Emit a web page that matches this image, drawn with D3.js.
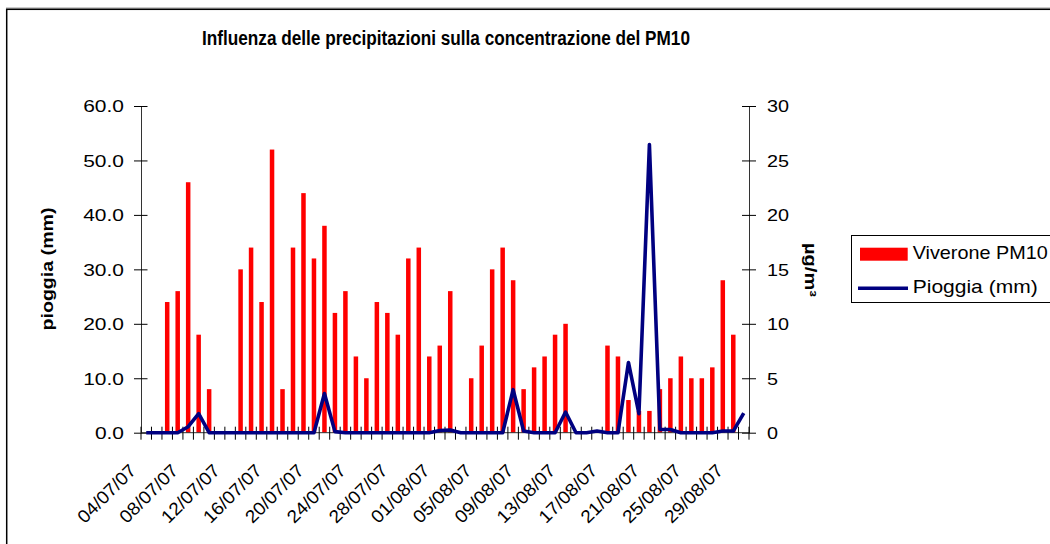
<!DOCTYPE html>
<html>
<head>
<meta charset="utf-8">
<script src="https://cdn.jsdelivr.net/npm/d3@7"></script>
<style>
  body { margin: 0; background: #fff; }
  svg { display: block; font-family: "Liberation Sans", Arial, sans-serif; }
</style>
</head>
<body>
<svg id="chart" width="1050" height="544"></svg>
<script>
// Categories (one per day)
const dates = [
  "04/07/07","05/07/07","06/07/07","07/07/07","08/07/07","09/07/07","10/07/07","11/07/07",
  "12/07/07","13/07/07","14/07/07","15/07/07","16/07/07","17/07/07","18/07/07","19/07/07",
  "20/07/07","21/07/07","22/07/07","23/07/07","24/07/07","25/07/07","26/07/07","27/07/07",
  "28/07/07","29/07/07","30/07/07","31/07/07","01/08/07","02/08/07","03/08/07","04/08/07",
  "05/08/07","06/08/07","07/08/07","08/08/07","09/08/07","10/08/07","11/08/07","12/08/07",
  "13/08/07","14/08/07","15/08/07","16/08/07","17/08/07","18/08/07","19/08/07","20/08/07",
  "21/08/07","22/08/07","23/08/07","24/08/07","25/08/07","26/08/07","27/08/07","28/08/07",
  "29/08/07","30/08/07"
];

// Viverone PM10 (µg/m3, right axis), null = no data
const pm10 = [
  null, null, 12, 13, 23, 9, 4, null,
  null, 15, 17, 12, 26, 4, 17, 22,
  16, 19, 11, 13, 7, 5, 12, 11,
  9, 16, 17, 7, 8, 13, null, 5,
  8, 15, 17, 14, 4, 6, 7, 9,
  10, null, null, null, 8, 7, 3, 2,
  2, 4, 5, 7, 5, 5, 6, 14,
  9, null
];

// Pioggia (mm, left axis)
const rain = [
  0, 0, 0, 0, 1.1, 3.5, 0, 0,
  0, 0, 0, 0, 0, 0, 0, 0,
  0, 7.2, 0.2, 0, 0, 0, 0, 0,
  0, 0, 0, 0, 0.4, 0.5, 0, 0,
  0, 0, 0, 7.9, 0.3, 0, 0, 0,
  3.8, 0, 0, 0.3, 0, 0, 12.9, 3.5,
  52.9, 0.6, 0.6, 0, 0, 0, 0, 0.3,
  0.3, 3.6
];

const rainTicks = [0, 10, 20, 30, 40, 50, 60];
const pmTicks = [0, 5, 10, 15, 20, 25, 30];
const labelEvery = 4;

const svg = d3.select("#chart");

// stretch text horizontally to mimic the wide rendering of the original
function stretch(sel, k) {
  sel.each(function () {
    const w = this.getComputedTextLength();
    this.setAttribute("textLength", w * k);
    this.setAttribute("lengthAdjust", "spacingAndGlyphs");
  });
}

// outer frame
svg.append("line")
  .attr("x1", 6).attr("x2", 1050).attr("y1", 8).attr("y2", 8)
  .attr("stroke", "#999").attr("stroke-width", 1);
svg.append("rect")
  .attr("x", 6.7).attr("y", 9.3)
  .attr("width", 1100).attr("height", 600)
  .attr("fill", "none").attr("stroke", "#000").attr("stroke-width", 1.5);

// plot geometry
const plotL = 141, plotR = 749, plotT = 106, plotB = 432.7;

const x = d3.scaleBand().domain(dates).range([plotL, plotR]).padding(0);
const yRain = d3.scaleLinear().domain([0, 60]).range([plotB, plotT]);
const yPM = d3.scaleLinear().domain([0, 30]).range([plotB, plotT]);

const barW = x.bandwidth() * 0.43;

// Bars (PM10)
svg.append("g")
  .selectAll("rect")
  .data(dates.map((d, i) => ({ date: d, value: pm10[i] })).filter(d => d.value != null))
  .join("rect")
  .attr("x", d => x(d.date) + x.bandwidth() / 2 - barW / 2)
  .attr("y", d => yPM(d.value))
  .attr("width", barW)
  .attr("height", d => plotB - yPM(d.value))
  .attr("fill", "#ff0000");

// Left axis
const gLeft = svg.append("g")
  .attr("transform", `translate(${plotL},0)`)
  .call(d3.axisLeft(yRain).tickValues(rainTicks).tickFormat(d3.format(".1f")).tickSizeOuter(0));
gLeft.attr("font-family", null).attr("font-size", null);
gLeft.select(".domain").attr("stroke", "#333");
gLeft.selectAll(".tick line").attr("x1", -7).attr("x2", 6.5).attr("stroke", "#000");
gLeft.selectAll(".tick text")
  .attr("x", -17).attr("dy", "0.36em")
  .attr("font-size", 16.5).attr("fill", "#000")
  .call(stretch, 1.27);

// Right axis
const gRight = svg.append("g")
  .attr("transform", `translate(${plotR},0)`)
  .call(d3.axisRight(yPM).tickValues(pmTicks).tickSizeOuter(0));
gRight.attr("font-family", null).attr("font-size", null);
gRight.select(".domain").attr("stroke", "#333");
gRight.selectAll(".tick line").attr("x1", -7).attr("x2", 7).attr("stroke", "#000");
gRight.selectAll(".tick text")
  .attr("x", 18).attr("dy", "0.36em")
  .attr("font-size", 16.5).attr("fill", "#000")
  .call(stretch, 1.2);

// X axis line and category boundary ticks
const gX = svg.append("g");
gX.append("line")
  .attr("x1", plotL).attr("x2", plotR)
  .attr("y1", plotB).attr("y2", plotB)
  .attr("stroke", "#333");
gX.selectAll("line.tick")
  .data(dates.concat([null]))
  .join("line")
  .attr("class", "tick")
  .attr("x1", d => d == null ? plotR : x(d))
  .attr("x2", d => d == null ? plotR : x(d))
  .attr("y1", plotB - 6).attr("y2", plotB + 7)
  .attr("stroke", "#000");

gX.selectAll("text")
  .data(dates.filter((d, i) => i % labelEvery === 0))
  .join("text")
  .attr("transform", d => `translate(${x(d) + x.bandwidth() / 2 - 9},${plotB + 39}) rotate(-45)`)
  .attr("text-anchor", "end")
  .attr("font-size", 18)
  .text(d => d)
  .call(stretch, 1.06);

// Rain line
const line = d3.line()
  .x((d, i) => x(dates[i]) + x.bandwidth() / 2)
  .y(d => yRain(d));

svg.append("path")
  .datum(rain)
  .attr("d", line)
  .attr("fill", "none")
  .attr("stroke", "#000080")
  .attr("stroke-width", 3.6)
  .attr("stroke-linejoin", "round");

// Title
svg.append("text")
  .attr("x", 446).attr("y", 45)
  .attr("text-anchor", "middle")
  .attr("font-size", 20).attr("font-weight", "bold")
  .attr("textLength", 488).attr("lengthAdjust", "spacingAndGlyphs")
  .text("Influenza delle precipitazioni sulla concentrazione del PM10");

// Axis titles
svg.append("text")
  .attr("transform", "translate(53,269) rotate(-90)")
  .attr("text-anchor", "middle")
  .attr("font-size", 16).attr("font-weight", "bold")
  .attr("textLength", 123).attr("lengthAdjust", "spacingAndGlyphs")
  .text("pioggia (mm)");

svg.append("text")
  .attr("transform", "translate(805,270) rotate(90)")
  .attr("text-anchor", "middle")
  .attr("font-size", 16).attr("font-weight", "bold")
  .attr("textLength", 54).attr("lengthAdjust", "spacingAndGlyphs")
  .text("µg/m³");

// Legend
const lg = svg.append("g");
lg.append("rect")
  .attr("x", 851.5).attr("y", 235.5)
  .attr("width", 220).attr("height", 67)
  .attr("fill", "#fff").attr("stroke", "#000").attr("stroke-width", 1);
lg.append("rect")
  .attr("x", 860).attr("y", 247.7).attr("width", 47.7).attr("height", 13)
  .attr("fill", "#ff0000");
lg.append("text")
  .attr("x", 912.7).attr("y", 258.5)
  .attr("font-size", 18.5)
  .attr("textLength", 135).attr("lengthAdjust", "spacingAndGlyphs")
  .text("Viverone PM10");
lg.append("line")
  .attr("x1", 858).attr("x2", 908).attr("y1", 288.3).attr("y2", 288.3)
  .attr("stroke", "#000080").attr("stroke-width", 3.6);
lg.append("text")
  .attr("x", 912.7).attr("y", 293)
  .attr("font-size", 18.5)
  .attr("textLength", 125).attr("lengthAdjust", "spacingAndGlyphs")
  .text("Pioggia (mm)");
</script>
</body>
</html>
